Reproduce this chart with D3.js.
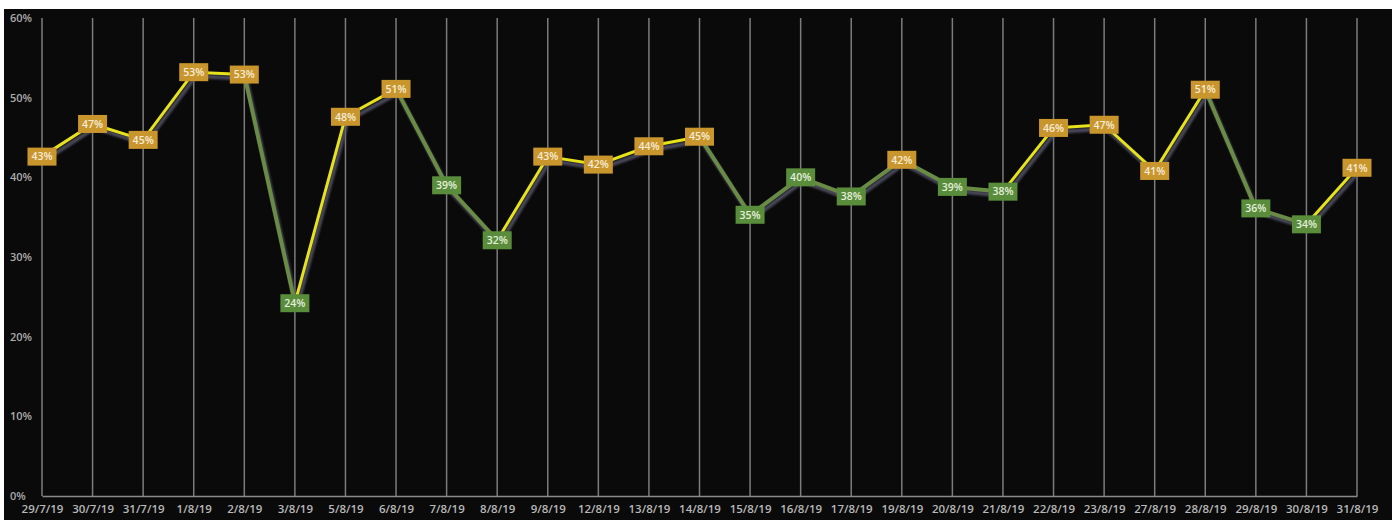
<!DOCTYPE html>
<html>
<head>
<meta charset="utf-8">
<script src="https://cdn.jsdelivr.net/npm/d3@7"></script>
<style>
  html, body { margin: 0; padding: 0; background: #ffffff; }
  svg { display: block; }
</style>
</head>
<body>
<svg id="chart" width="1396" height="520"></svg>
<script>
// ---- data ----
const dates = ["29/7/19","30/7/19","31/7/19","1/8/19","2/8/19","3/8/19","5/8/19","6/8/19","7/8/19","8/8/19","9/8/19","12/8/19","13/8/19","14/8/19","15/8/19","16/8/19","17/8/19","19/8/19","20/8/19","21/8/19","22/8/19","23/8/19","27/8/19","28/8/19","29/8/19","30/8/19","31/8/19"];
const values = [42.6, 46.7, 44.7, 53.2, 52.9, 24.2, 47.6, 51.1, 39.0, 32.1, 42.6, 41.6, 43.9, 45.1, 35.3, 40.0, 37.6, 42.2, 38.8, 38.2, 46.2, 46.6, 40.8, 51.0, 36.1, 34.1, 41.2];
// marker tone per point: "Y" gold, "G" green
const markerTone = ["Y","Y","Y","Y","Y","G","Y","Y","G","G","Y","Y","Y","Y","G","G","G","Y","G","G","Y","Y","Y","Y","G","G","Y"];
// tone of the segment that ends at each point (first entry unused)
const segmentTone = ["-","Y","Y","Y","Y","G","Y","Y","G","G","Y","Y","Y","Y","G","G","G","G","G","G","Y","Y","Y","Y","G","G","Y"];
const yTicks = [0, 10, 20, 30, 40, 50, 60];

// ---- layout ----
const W = 1396, H = 520;
const bg = {x: 4, y: 9, w: 1388, h: 511};
const plot = {left: 42, right: 1357, top: 18, bottom: 496};

const svg = d3.select("#chart");
const defs = svg.append("defs");
const f = defs.append("filter").attr("id", "shadow").attr("x", "-10%").attr("y", "-10%").attr("width", "120%").attr("height", "130%");
f.append("feGaussianBlur").attr("stdDeviation", 1.2);

svg.append("rect").attr("x", bg.x).attr("y", bg.y).attr("width", bg.w).attr("height", bg.h).attr("fill", "#0a0a0a");

const x = d3.scalePoint().domain(dates).range([plot.left, plot.right]);
const y = d3.scaleLinear().domain([0, 60]).range([plot.bottom, plot.top]);

// vertical gridlines at each category
svg.append("g").selectAll("line").data(dates).join("line")
  .attr("x1", d => x(d)).attr("x2", d => x(d))
  .attr("y1", plot.top).attr("y2", plot.bottom)
  .attr("stroke", "#7c7c7c").attr("stroke-width", 1.5);

// x axis
const xAxis = svg.append("g").attr("transform", `translate(0,${plot.bottom})`)
  .call(d3.axisBottom(x).tickSize(0).tickPadding(9));
xAxis.select(".domain").attr("stroke", "#8a8a8a").attr("stroke-width", 1.5);
xAxis.selectAll("text").attr("fill", "#b8b8b8").attr("font-family", "Open Sans").attr("font-size", 11.5).attr("font-weight", 600);

// y axis labels
const yAxis = svg.append("g").attr("transform", `translate(${plot.left},0)`)
  .call(d3.axisLeft(y).tickValues(yTicks).tickFormat(d => d + "%").tickSize(0).tickPadding(10));
yAxis.select(".domain").remove();
yAxis.selectAll("text").attr("fill", "#ababab").attr("font-family", "Open Sans").attr("font-size", 11).attr("font-weight", 600)
  .attr("text-anchor", "start").attr("x", 10 - plot.left);

// segments
const pts = dates.map((d, i) => ({d, v: values[i], m: markerTone[i], s: segmentTone[i]}));
const segs = pts.slice(1).map((p, i) => ({a: pts[i], b: p, tone: p.s}));

// shadow
svg.append("g").attr("filter", "url(#shadow)").selectAll("line").data(segs).join("line")
  .attr("x1", s => x(s.a.d) + 2).attr("y1", s => y(s.a.v) + 4)
  .attr("x2", s => x(s.b.d) + 2).attr("y2", s => y(s.b.v) + 4)
  .attr("stroke", "#55556a").attr("stroke-width", 4).attr("stroke-linecap", "round").attr("opacity", 0.85);

svg.append("g").selectAll("line").data(segs).join("line")
  .attr("x1", s => x(s.a.d)).attr("y1", s => y(s.a.v))
  .attr("x2", s => x(s.b.d)).attr("y2", s => y(s.b.v))
  .attr("stroke", s => s.tone === "Y" ? "#e6e21c" : "#6a8b45")
  .attr("stroke-width", s => s.tone === "Y" ? 3 : 4)
  .attr("stroke-linecap", "round");

// markers with labels
const mw = 29, mh = 18;
const mg = svg.append("g").selectAll("g").data(pts).join("g")
  .attr("transform", p => `translate(${x(p.d)},${y(p.v)})`);
mg.append("rect").attr("x", -mw / 2).attr("y", -mh / 2).attr("width", mw).attr("height", mh)
  .attr("fill", p => p.m === "Y" ? "#c9962e" : "#5a8d3b");
mg.append("text").attr("text-anchor", "middle").attr("dy", "0.36em")
  .attr("font-family", "Open Sans").attr("font-size", 10.5).attr("font-weight", 600)
  .attr("fill", p => p.m === "Y" ? "#f6ecd6" : "#e4efdc")
  .text(p => Math.round(p.v) + "%");
</script>
</body>
</html>
